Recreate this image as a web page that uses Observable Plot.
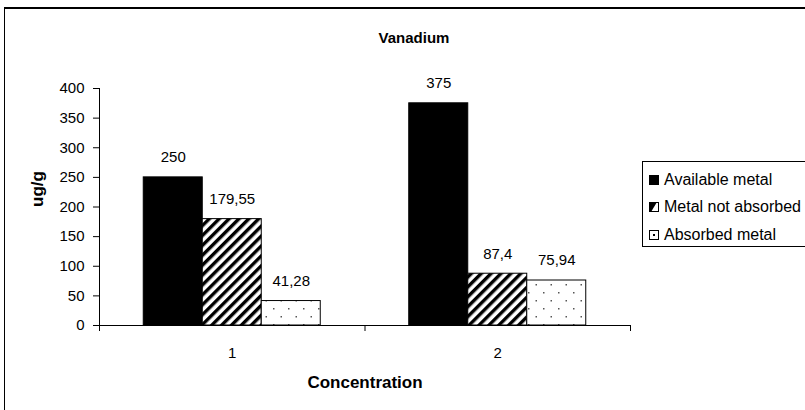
<!DOCTYPE html>
<html>
<head>
<meta charset="utf-8">
<script src="https://cdn.jsdelivr.net/npm/d3@7"></script>
<script src="https://cdn.jsdelivr.net/npm/@observablehq/plot@0.6"></script>
<style>
  html, body { margin: 0; padding: 0; background: #fff; overflow: hidden; }
  #wrap { position: relative; width: 805px; height: 410px; overflow: hidden; font-family: "Liberation Sans", Arial, sans-serif; }
  #border { position: absolute; left: 4px; top: 7px; width: 900px; height: 500px; border-left: 1.5px solid #000; border-top: 2px solid #000; }
  #chart { position: absolute; left: 0; top: 0; }
  #legend { position: absolute; left: 642px; top: 161px; width: 200px; height: 86px; border: 1px solid #000; background: #fff; box-sizing: border-box; padding-top: 4px; }
  .row { display: flex; align-items: center; height: 27.5px; font-size: 16px; color: #000; }
  .row svg { margin-left: 6px; margin-right: 5px; flex: none; }
</style>
</head>
<body>
<div id="wrap">
  <div id="border"></div>
  <div id="chart"></div>
  <div id="legend"></div>
</div>
<script>
const concentrations = [1, 2];
const seriesNames = ["Available metal", "Metal not absorbed", "Absorbed metal"];
const availableMetal = [250, 375];
const metalNotAbsorbed = [179.55, 87.4];
const absorbedMetal = [41.28, 75.94];
const yTicks = [0, 50, 100, 150, 200, 250, 300, 350, 400];
const seriesFills = ["black", "url(#hatch)", "url(#dots)"];

const seriesValues = [availableMetal, metalNotAbsorbed, absorbedMetal];
const barWidth = 2 / 9;   // fraction of a category band
const groupGap = (1 - 3 * barWidth) / 2;

const data = [];
concentrations.forEach((c, gi) => {
  seriesNames.forEach((s, si) => {
    const x1 = c - 0.5 + groupGap + si * barWidth;
    data.push({concentration: c, series: s, value: seriesValues[si][gi], x1, x2: x1 + barWidth, xm: x1 + barWidth / 2});
  });
});

const fmt = v => String(v).replace(".", ",");

const plot = Plot.plot({
  width: 805,
  height: 410,
  marginLeft: 99,
  marginRight: 175,
  marginTop: 88,
  marginBottom: 85,
  style: {fontFamily: "'Liberation Sans', Arial, sans-serif", fontSize: "15px", color: "#000", background: "transparent", overflow: "visible"},
  x: {type: "linear", domain: [concentrations[0] - 0.5, concentrations[concentrations.length - 1] + 0.5]},
  y: {domain: [0, 400]},
  color: {domain: seriesNames, range: seriesFills},
  marks: [
    Plot.rectY(data, {x1: "x1", x2: "x2", y: "value", fill: "series", stroke: "#000", strokeWidth: 1}),
    Plot.text(data, {x: "xm", y: "value", text: d => fmt(d.value), dy: -20, fontSize: 15, fill: "#000"}),
    Plot.ruleY([0], {stroke: "#000", strokeWidth: 1}),
    Plot.ruleX([concentrations[0] - 0.5], {stroke: "#000", strokeWidth: 1}),
    Plot.axisY({ticks: yTicks, tickSize: 6, tickPadding: 9, label: null, fontSize: 15, stroke: "#000"}),
    Plot.axisX({ticks: [0.5, 1.5, 2.5], tickSize: 6, tickFormat: () => "", label: null, stroke: "#000"}),
    Plot.axisX({ticks: concentrations, tickSize: 0, tickPadding: 22, tickFormat: d => String(d), label: null, fontSize: 15}),
    Plot.text(["Concentration"], {frameAnchor: "bottom", dy: 62, fontSize: 17, fontWeight: "bold", fill: "#000"}),
    Plot.text(["ug/g"], {frameAnchor: "left", dx: -62, rotate: -90, fontSize: 17, fontWeight: "bold", fill: "#000"}),
    Plot.text(["Vanadium"], {frameAnchor: "top", dx: 49, dy: -56, fontSize: 15, fontWeight: "bold", fill: "#000"})
  ]
});

// pattern definitions
const defs = d3.select(plot).insert("defs", ":first-child");
const hatch = defs.append("pattern").attr("id", "hatch").attr("patternUnits", "userSpaceOnUse")
  .attr("width", 7).attr("height", 7).attr("patternTransform", "rotate(45)");
hatch.append("rect").attr("width", 7).attr("height", 7).attr("fill", "#fff");
hatch.append("rect").attr("width", 3.4).attr("height", 7).attr("fill", "#000");
const dots = defs.append("pattern").attr("id", "dots").attr("patternUnits", "userSpaceOnUse")
  .attr("width", 15).attr("height", 16);
dots.append("rect").attr("width", 15).attr("height", 16).attr("fill", "#fff");
dots.append("rect").attr("x", 3).attr("y", 4).attr("width", 1.5).attr("height", 1.5).attr("fill", "#555");
dots.append("rect").attr("x", 10.5).attr("y", 12).attr("width", 1.5).attr("height", 1.5).attr("fill", "#555");

document.getElementById("chart").appendChild(plot);

// legend
const swatches = [
  '<svg width="10" height="10"><rect x="0" y="0" width="10" height="10" fill="#000"/></svg>',
  '<svg width="10" height="10"><rect x="0.5" y="0.5" width="9" height="9" fill="#fff" stroke="#000"/><polygon points="0,0 8,0 2,10 0,10" fill="#000"/></svg>',
  '<svg width="10" height="10"><rect x="0.5" y="0.5" width="9" height="9" fill="#fff" stroke="#000"/><rect x="4" y="4" width="2" height="2" fill="#000"/></svg>'
];
const legend = document.getElementById("legend");
seriesNames.forEach((s, i) => {
  const row = document.createElement("div");
  row.className = "row";
  row.innerHTML = swatches[i] + "<span>" + s + "</span>";
  legend.appendChild(row);
});
</script>
</body>
</html>
